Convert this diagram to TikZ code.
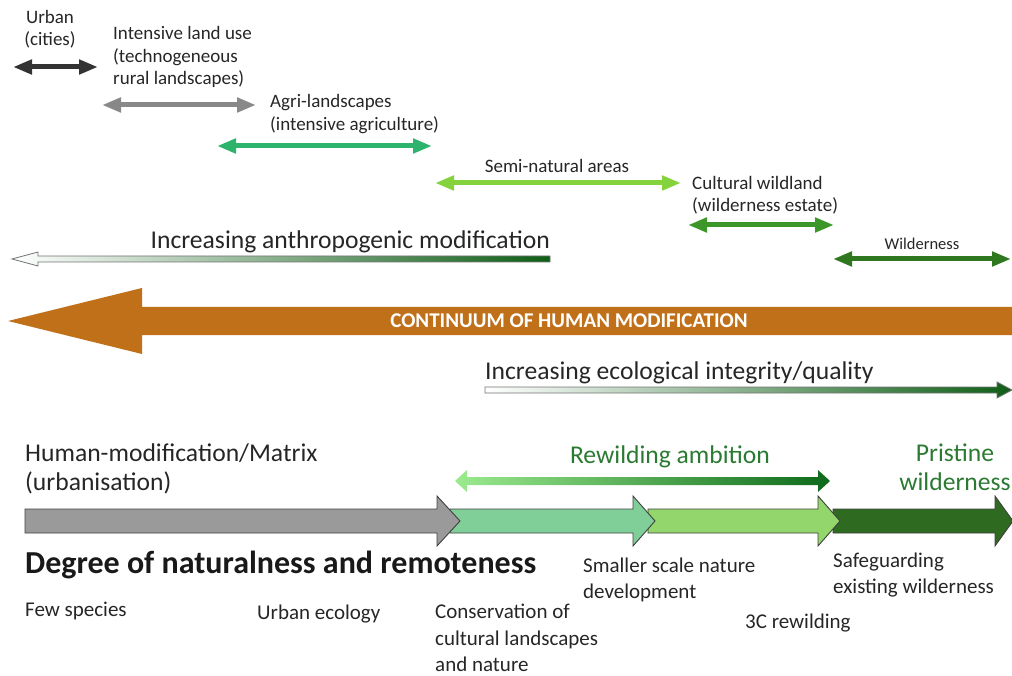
\documentclass[tikz,border=0pt]{standalone}
\usepackage{fontspec}
\setmainfont{Carlito}
\usetikzlibrary{arrows.meta}
\definecolor{urbandark}{HTML}{333333}
\definecolor{landgrey}{HTML}{888888}
\definecolor{agrigreen}{HTML}{2DB36B}
\definecolor{semigreen}{HTML}{84D23C}
\definecolor{wildlandgreen}{HTML}{3C962A}
\definecolor{wildgreen}{HTML}{2F781F}
\definecolor{humanbrown}{HTML}{C07018}
\definecolor{trendgreen}{HTML}{0E5E16}
\definecolor{ambitionlight}{HTML}{9BEA8E}
\definecolor{ambitiondark}{HTML}{0D6A1A}
\definecolor{ambitiontext}{HTML}{2A7A32}
\definecolor{stagegrey}{HTML}{9A9A9A}
\definecolor{stageone}{HTML}{80CF98}
\definecolor{stagetwo}{HTML}{93D66C}
\definecolor{stagethree}{HTML}{2E6A1F}
\tikzset{
  label/.style={
    font=\fontsize{19}{22.5}\selectfont,
    align=left,
    inner sep=0pt,
    text=black!85
  },
  biglabel/.style={
    label,
    font=\fontsize{25.6}{29}\selectfont
  },
  bottomlabel/.style={
    label,
    font=\fontsize{21}{26.5}\selectfont
  },
  span/.style={
    line width=5pt,
    {Triangle[length=19pt,width=14pt]}-{Triangle[length=19pt,width=14pt]}
  },
  trend/.style={
    draw=black!55,
    line width=0.8pt,
    line join=miter
  },
  stage/.style={
    draw=black!75,
    line width=0.9pt,
    line join=miter
  }
}
\newcommand{\stagearrow}[4]{%
  \filldraw[stage,fill=#1] (#2,509) -- (#3,509) -- (#3,496) -- (#4,521)
    -- (#3,546) -- (#3,533) -- (#2,533) -- cycle;}

\begin{document}
\begin{tikzpicture}[x=1pt,y=-1pt]
  \useasboundingbox (0,0) rectangle (1012,676);

  \node[label, align=center] (urbantxt) at (50,29) {Urban\\(cities)};
  \node[label, anchor=west] (landusetxt) at (113,57) {Intensive land use\\(technogeneous\\rural landscapes)};
  \node[label, anchor=west] (agritxt) at (270,114) {Agri-landscapes\\(intensive agriculture)};
  \node[label] (seminattxt) at (557,166) {Semi-natural areas};
  \node[label, anchor=west] (wildlandtxt) at (692,195) {Cultural wildland\\(wilderness estate)};
  \node[label, font=\fontsize{16.5}{20}\selectfont] (wildtxt) at (922,244) {Wilderness};

  \coordinate (urbanL) at (13,67);        \coordinate (urbanR) at (98,67);
  \coordinate (landuseL) at (102,105);    \coordinate (landuseR) at (256,105);
  \coordinate (agriL) at (217,146);       \coordinate (agriR) at (432,146);
  \coordinate (seminatL) at (435,183);    \coordinate (seminatR) at (681,183);
  \coordinate (wildlandL) at (688,225);   \coordinate (wildlandR) at (834,225);
  \coordinate (wildL) at (833,259);       \coordinate (wildR) at (1011,259);

  \draw[span, draw=urbandark] (urbanL) -- (urbanR);
  \draw[span, draw=landgrey] (landuseL) -- (landuseR);
  \draw[span, draw=agrigreen] (agriL) -- (agriR);
  \draw[span, draw=semigreen] (seminatL) -- (seminatR);
  \draw[span, draw=wildlandgreen] (wildlandL) -- (wildlandR);
  \draw[span, draw=wildgreen] (wildL) -- (wildR);

  \node[biglabel, anchor=east] (anthrotxt) at (550,242) {Increasing anthropogenic modification};
  \shadedraw[trend, left color=white, right color=trendgreen]
    (550,256) -- (38,256) -- (38,252) -- (12,259) -- (38,266) -- (38,262) -- (550,262) -- cycle;

  \fill[humanbrown] (8,321) -- (142,288) -- (142,307) -- (1012,307) -- (1012,335)
    -- (142,335) -- (142,354) -- cycle;
  \node[font=\fontsize{21}{25}\selectfont\bfseries, text=white, inner sep=0pt] (continuumtxt) at (569,321) {CONTINUUM OF HUMAN MODIFICATION};

  \node[biglabel, anchor=west] (ecotxt) at (485,373) {Increasing ecological integrity/quality};
  \shadedraw[trend, left color=white, right color=trendgreen]
    (485,387) -- (997,387) -- (997,382) -- (1012,390) -- (997,398) -- (997,393) -- (485,393) -- cycle;

  \node[biglabel, anchor=west] (matrixtxt) at (25,469) {Human-modification/Matrix\\(urbanisation)};
  \node[biglabel, text=ambitiontext] (ambitiontxt) at (670,457) {Rewilding ambition};
  \node[biglabel, align=center, text=ambitiontext] (pristinetxt) at (955,467) {Pristine\\wilderness};

  \shade[left color=ambitionlight, right color=ambitiondark]
    (455,481) -- (467,470) -- (467,477) -- (818,477) -- (818,470) -- (830,481)
    -- (818,492) -- (818,485) -- (467,485) -- (467,492) -- cycle;

  \stagearrow{stagethree}{833}{995}{1013}
  \stagearrow{stagetwo}{648}{818}{840}
  \stagearrow{stageone}{450}{633}{655}
  \stagearrow{stagegrey}{25}{437}{460}

  \node[label, anchor=west, font=\fontsize{32}{38}\selectfont\bfseries, text=black!90] (degreetxt) at (25,565) {Degree of naturalness and remoteness};
  \node[bottomlabel, anchor=west] (fewtxt) at (25,611) {Few species};
  \node[bottomlabel, anchor=west] (urbecotxt) at (257,614) {Urban ecology};
  \node[bottomlabel, anchor=west] (conservtxt) at (435,638) {Conservation of\\cultural landscapes\\and nature};
  \node[bottomlabel, anchor=west] (smallertxt) at (583,580) {Smaller scale nature\\development};
  \node[bottomlabel, anchor=west] (threectxt) at (745,623) {3C rewilding};
  \node[bottomlabel, anchor=west] (safetxt) at (833,575) {Safeguarding\\existing wilderness};
\end{tikzpicture}
\end{document}
